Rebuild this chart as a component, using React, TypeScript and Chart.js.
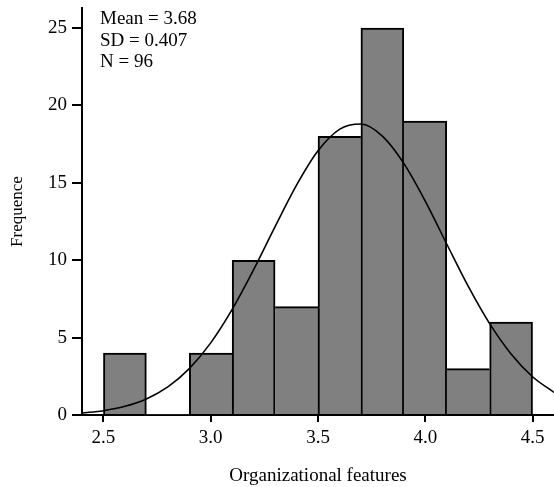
import React, { useEffect, useRef } from "react";
import { Chart, registerables } from "chart.js";

Chart.register(...registerables);

const BIN_CENTERS = [2.6, 2.8, 3.0, 3.2, 3.4, 3.6, 3.8, 4.0, 4.2, 4.4];
const COUNTS = [4, 0, 4, 10, 7, 18, 25, 19, 3, 6];
const CURVE_X = [2.4, 2.5, 2.6, 2.7, 2.8, 2.9, 3.0, 3.1, 3.2, 3.3, 3.4, 3.5, 3.6, 3.7, 3.8, 3.9, 4.0, 4.1, 4.2, 4.3, 4.4, 4.5, 4.6];
const CURVE_Y = [0.13, 0.28, 0.56, 1.04, 1.82, 3.0, 4.66, 6.82, 9.39, 12.17, 14.85, 17.07, 18.46, 18.8, 18.02, 16.26, 13.82, 11.05, 8.32, 5.9, 3.94, 2.47, 1.46];
const X_TICKS = [2.5, 3.0, 3.5, 4.0, 4.5];
const Y_TICKS = [0, 5, 10, 15, 20, 25];
const STATS = ["Mean = 3.68", "SD = 0.407", "N = 96"];
const X_TITLE = "Organizational features";
const Y_TITLE = "Frequence";

const FONT = '"Liberation Serif", "Times New Roman", serif';

export default function App() {
  const ref = useRef<HTMLCanvasElement | null>(null);
  useEffect(() => {
    document.body.style.margin = "0";
    const canvas = ref.current;
    if (!canvas) return;
    const statsPlugin = {
      id: "stats",
      afterDraw(chart: any) {
        const ctx = chart.ctx;
        ctx.save();
        ctx.font = `19px ${FONT}`;
        ctx.fillStyle = "#000";
        ctx.textBaseline = "alphabetic";
        ctx.textAlign = "left";
        STATS.forEach((t, i) => ctx.fillText(t, chart.chartArea.left + 18, 24 + i * 21.5));
        ctx.restore();
      },
    };
    const chart = new Chart(canvas, {
      type: "bar",
      data: {
        datasets: [
          {
            type: "line",
            data: CURVE_X.map((x, i) => ({ x, y: CURVE_Y[i] })),
            borderColor: "#000",
            borderWidth: 1.6,
            pointRadius: 0,
            cubicInterpolationMode: "monotone",
            fill: false,
            order: 0,
          } as any,
          {
            type: "bar",
            data: BIN_CENTERS.map((x, i) => ({ x, y: COUNTS[i] })),
            backgroundColor: "#808080",
            borderColor: "#000",
            borderSkipped: false,
            borderWidth: (c: any) => {
              const i = c.dataIndex;
              const v = COUNTS[i];
              const prev = i > 0 ? COUNTS[i - 1] : 0;
              const next = i < COUNTS.length - 1 ? COUNTS[i + 1] : 0;
              return { top: 2, bottom: 0, left: v >= prev ? 2 : 0, right: v > next ? 2 : 0 };
            },
            barPercentage: 1,
            categoryPercentage: 1,
            order: 1,
          } as any,
        ],
      },
      options: {
        responsive: false,
        animation: false,
        layout: { padding: { top: 8, left: 0, right: 0, bottom: 0 } },
        plugins: { legend: { display: false }, tooltip: { enabled: false } },
        scales: {
          x: {
            type: "linear",
            min: 2.4,
            max: 4.6,
            offset: false,
            afterBuildTicks: (s: any) => {
              s.ticks = X_TICKS.map((v) => ({ value: v }));
            },
            afterFit: (s: any) => {
              s.height = 72;
              s.paddingLeft = 0;
              s.paddingRight = 0;
            },
            grid: { display: true, drawOnChartArea: false, drawTicks: true, tickLength: 7, color: "#000", lineWidth: 2, offset: false },
            border: { display: true, color: "#000", width: 2 },
            ticks: {
              color: "#000",
              padding: 5,
              font: { family: FONT, size: 19 },
              callback: (v: any) => Number(v).toFixed(1),
            },
            title: {
              display: true,
              text: X_TITLE,
              color: "#000",
              font: { family: FONT, size: 19, lineHeight: 1 },
              padding: { top: 0, bottom: 1 },
            },
          },
          y: {
            type: "linear",
            min: 0,
            max: 26.3,
            afterBuildTicks: (s: any) => {
              s.ticks = Y_TICKS.map((v) => ({ value: v }));
            },
            afterFit: (s: any) => {
              s.width = 82;
              s.paddingTop = 0;
              s.paddingBottom = 0;
            },
            grid: { display: true, drawOnChartArea: false, drawTicks: true, tickLength: 10, color: "#000", lineWidth: 2 },
            border: { display: true, color: "#000", width: 2 },
            ticks: {
              color: "#000",
              padding: 5,
              font: { family: FONT, size: 19 },
            },
            title: {
              display: true,
              text: Y_TITLE,
              color: "#000",
              font: { family: FONT, size: 17 },
              padding: { top: 7, bottom: 0 },
            },
          },
        },
      },
      plugins: [statsPlugin],
    } as any);
    return () => chart.destroy();
  }, []);
  return <canvas ref={ref} width={554} height={487} style={{ display: "block" }} />;
}
